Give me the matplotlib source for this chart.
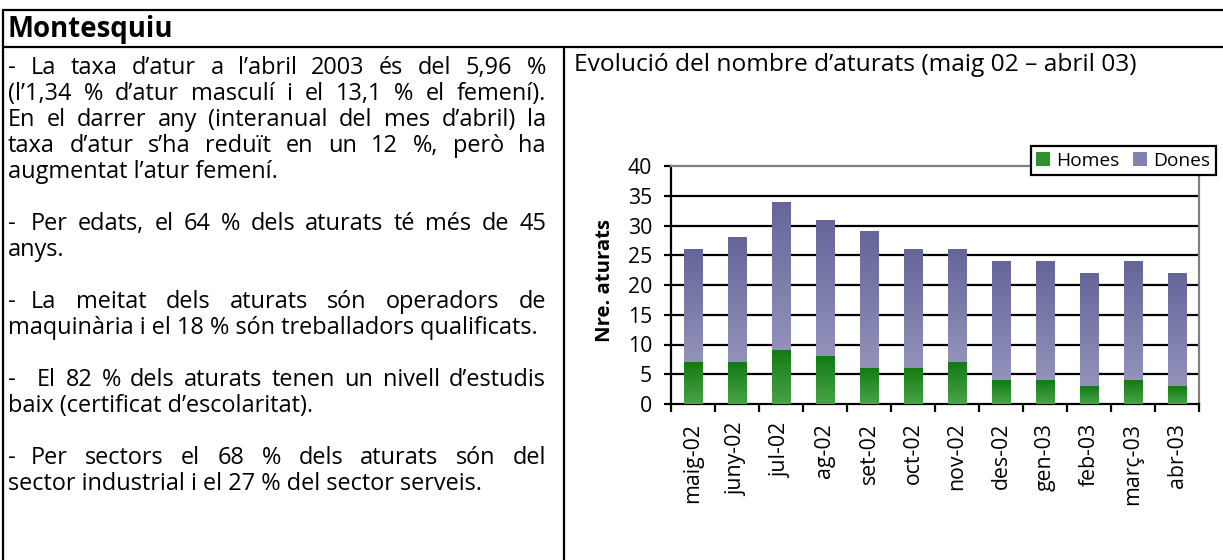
import numpy as np
import matplotlib
matplotlib.use("Agg")
import matplotlib.pyplot as plt
from matplotlib.colors import LinearSegmentedColormap
from matplotlib.lines import Line2D
from matplotlib.patches import Patch

plt.rcParams['font.family'] = ['Open Sans', 'DejaVu Sans']

# dades
mesos = ['maig-02', 'juny-02', 'jul-02', 'ag-02', 'set-02', 'oct-02',
         'nov-02', 'des-02', 'gen-03', 'feb-03', 'març-03', 'abr-03']
homes = [7, 7, 9, 8, 6, 6, 7, 4, 4, 3, 4, 3]
dones = [19, 21, 25, 23, 23, 20, 19, 20, 20, 19, 20, 19]
yticks = [0, 5, 10, 15, 20, 25, 30, 35, 40]
series = ['Homes', 'Dones']

titol_taula = 'Montesquiu'
titol_grafic = 'Evolució del nombre d’aturats (maig 02 – abril 03)'
ylabel = 'Nre. aturats'

# cada paragraf comença amb un guio; totes les linies menys la darrera es justifiquen
paragrafs = [
    ['La taxa d’atur a l’abril 2003 és del 5,96 %',
     '(l’1,34 % d’atur masculí i el 13,1 % el femení).',
     'En el darrer any (interanual del mes d’abril) la',
     'taxa d’atur s’ha reduït en un 12 %, però ha',
     'augmentat l’atur femení.'],
    ['Per edats, el 64 % dels aturats té més de 45', 'anys.'],
    ['La meitat dels aturats són operadors de',
     'maquinària i el 18 % són treballadors qualificats.'],
    [' El 82 % dels aturats tenen un nivell d’estudis',
     'baix (certificat d’escolaritat).'],
    ['Per sectors el 68 % dels aturats són del',
     'sector industrial i el 27 % del sector serveis.'],
]

W, H = 1223, 560
fig = plt.figure(figsize=(W / 100, H / 100), dpi=100)
renderer = fig.canvas.get_renderer()


def fx(x):
    return x / W


def fy(y):
    return 1 - y / H


def width(s, fs, weight='normal'):
    t = fig.text(0, 0, s, fontsize=fs, fontweight=weight)
    w = t.get_window_extent(renderer).width
    t.remove()
    return w


def fit(s, px, weight='normal'):
    # mida de lletra perque el text faci px pixels d'ample
    return 10 * px / width(s, 10, weight)


def line(xs, ys, color='black', lw=1.6):
    fig.add_artist(Line2D([fx(v) for v in xs], [fy(v) for v in ys],
                          transform=fig.transFigure, color=color, lw=lw,
                          solid_capstyle='butt'))


# marc de la taula
line([2, W], [10, 10])
line([2, W], [47, 47])
line([3, 3], [10, H])
line([564, 564], [47, H])

fig.text(fx(8), fy(29), titol_taula, fontsize=fit(titol_taula, 166, 'bold'),
         fontweight='bold', va='center', ha='left')

# text de l'esquerra, justificat
fs = fit('maquinària i el 18 % són treballadors qualificats.', 532)
x0, xt, x1 = 8, 31, 546
y = 68
dy = 26
for par in paragrafs:
    for i, ln in enumerate(par):
        start = x0
        if i == 0:
            fig.text(fx(x0), fy(y), '-', fontsize=fs, va='center')
            start = xt + (width('x' + ln, fs) - width('x' + ln.lstrip(), fs))
        if i == len(par) - 1:
            fig.text(fx(start), fy(y), ln.strip(), fontsize=fs, va='center')
        else:
            words = ln.split()
            ws = [width(w, fs) for w in words]
            gap = (x1 - start - sum(ws)) / (len(words) - 1)
            xx = start
            for w, wd in zip(words, ws):
                fig.text(fx(xx), fy(y), w, fontsize=fs, va='center')
                xx += wd + gap
        y += dy
    y += dy

# grafic
fig.text(fx(574), fy(65), titol_grafic, fontsize=fit(titol_grafic, 562),
         va='center', ha='left')

tfs = fit('maig-02', 80)
ax = fig.add_axes([fx(671), fy(404), (1199 - 671) / W, (404 - 166) / H])
x = np.arange(len(mesos))
bw = 0.41
b1 = ax.bar(x, homes, bw, color='#2e902e', zorder=2)
b2 = ax.bar(x, dones, bw, bottom=homes, color='#7e7eac', zorder=2)

cm_h = LinearSegmentedColormap.from_list('h', ['#48a448', '#137b13'])
cm_d = LinearSegmentedColormap.from_list('d', ['#9292bb', '#65659a'])
grad = np.linspace(0, 1, 128).reshape(-1, 1)
for bars, cm in ((b1, cm_h), (b2, cm_d)):
    for p in bars:
        im = ax.imshow(grad, extent=[p.get_x(), p.get_x() + p.get_width(),
                                     p.get_y(), p.get_y() + p.get_height()],
                       origin='lower', aspect='auto', cmap=cm, zorder=3)
        im.set_clip_path(p)

ax.set_xlim(-0.5, len(mesos) - 0.5)
ax.set_ylim(yticks[0], yticks[-1])
ax.set_yticks(yticks)
for t in yticks[1:-1]:
    ax.axhline(t, color='black', lw=1.6, zorder=1)

ax.set_xticks(np.arange(len(mesos) + 1) - 0.5)
ax.set_xticklabels([])
ax.set_xticks(x, minor=True)
ax.set_xticklabels(mesos, minor=True, rotation=90)
ax.tick_params(axis='x', which='major', direction='out', length=5.8, width=1.6)
ax.tick_params(axis='x', which='minor', length=0, pad=13.5, labelsize=tfs)
ax.tick_params(axis='y', direction='out', length=5, width=1.6, pad=8.5,
               labelsize=tfs)

for s in ('left', 'bottom'):
    ax.spines[s].set_color('black')
    ax.spines[s].set_linewidth(1.6)
for s in ('top', 'right'):
    ax.spines[s].set_color('#808080')
    ax.spines[s].set_linewidth(1.6)

ax.set_ylabel(ylabel, fontsize=fit(ylabel, 123, 'bold'), fontweight='bold')
ax.yaxis.set_label_coords((615 - 671) / 528, (404 - 280) / 238)

handles = [Patch(facecolor='#2e902e'), Patch(facecolor='#8282b0')]
leg = fig.legend(handles, series, loc='upper right',
                 bbox_to_anchor=(fx(1216), fy(146)), ncol=2,
                 fontsize=fit('Homes', 63),
                 frameon=True, fancybox=False, edgecolor='black', framealpha=1,
                 borderaxespad=0, handlelength=0.7, handleheight=0.7,
                 handletextpad=0.35, columnspacing=0.7, borderpad=0.3)
leg.get_frame().set_linewidth(1.6)

fig.savefig('out.png', dpi=100)
